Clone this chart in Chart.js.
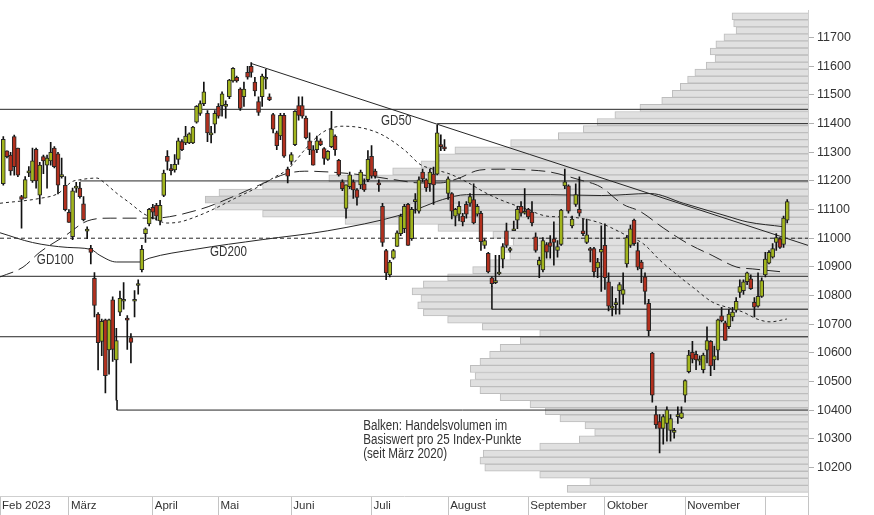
<!DOCTYPE html>
<html>
<head>
<meta charset="utf-8">
<script src="https://cdn.jsdelivr.net/npm/chart.js@4.4.0/dist/chart.umd.min.js"></script>
<style>
  html, body { margin: 0; padding: 0; background: #fff; }
</style>
</head>
<body>
<canvas id="c" width="874" height="515"></canvas>
<script>
// SMI daily candles, day 0 = 3 Feb 2023 (trading days only)
const opens = [
  11190, 11305, 11290, 11355, 11315, 11145, 11140, 11228, 11200, 11310, 11150, 11285,
  11255, 11270, 11315, 11295, 11215, 11185, 11090, 11005, 11175, 11175, 11120, 11025,
  10965, 10860, 10735, 10640, 10715, 10610, 10785, 10575, 10742, 10780, 10718, 10653,
  10780, 10835, 10890, 11016, 11050, 11108, 11115, 11060, 11149, 11286, 11240, 11238,
  11275, 11337, 11333, 11333, 11333, 11405, 11436, 11470, 11436, 11361, 11398, 11460,
  11463, 11460, 11494, 11549, 11562, 11521, 11494, 11579, 11600, 11545, 11477, 11494,
  11555, 11494, 11432, 11368, 11357, 11429, 11241, 11268, 11327, 11463, 11463, 11419,
  11340, 11309, 11309, 11340, 11313, 11275, 11320, 11357, 11272, 11197, 11104, 11180,
  11197, 11169, 11186, 11190, 11204, 11286, 11234, 11190, 11111, 10957, 10872, 10930,
  10971, 11016, 11033, 11118, 10998, 11128, 11094, 11231, 11204, 11190, 11224, 11224,
  11323, 11316, 11156, 11156, 11077, 11084, 11077, 11118, 11122, 11135, 11084, 11087,
  10975, 10947, 10862, 10845, 10875, 10927, 11026, 10957, 11026, 11063, 11111, 11087,
  11101, 11091, 11005, 10906, 10889, 10978, 10985, 10998, 10957, 10978, 11183, 11183,
  11043, 11118, 11101, 11026, 10985, 10964, 10964, 10896, 10951, 10975, 10848, 10756,
  10768, 10817, 10804, 10910, 10975, 11063, 10957, 10917, 10865, 10773, 10599, 10384,
  10360, 10336, 10353, 10329, 10322, 10377, 10373, 10452, 10534, 10602, 10595, 10571,
  10541, 10609, 10640, 10575, 10609, 10729, 10705, 10691, 10725, 10749, 10811, 10817,
  10848, 10858, 10776, 10763, 10797, 10872, 10913, 10934, 10985, 10998, 10978, 11063
];
const highs = [
  11355, 11305, 11300, 11360, 11315, 11150, 11215, 11250, 11315, 11315, 11265, 11290,
  11290, 11335, 11320, 11300, 11280, 11215, 11100, 11175, 11195, 11195, 11145, 11040,
  10975, 10880, 10740, 10718, 10718, 10718, 10795, 10685, 10815, 10845, 10730, 10667,
  10817, 10855, 10975, 11036, 11104, 11118, 11122, 11132, 11238, 11306, 11258, 11292,
  11350, 11344, 11391, 11368, 11391, 11463, 11480, 11545, 11446, 11391, 11446, 11470,
  11511, 11480, 11555, 11596, 11566, 11525, 11545, 11600, 11613, 11562, 11494, 11573,
  11590, 11504, 11436, 11374, 11436, 11436, 11248, 11299, 11446, 11494, 11494, 11426,
  11368, 11323, 11357, 11347, 11316, 11306, 11443, 11361, 11275, 11204, 11186, 11231,
  11204, 11173, 11238, 11207, 11306, 11323, 11241, 11204, 11122, 10961, 10923, 10961,
  11026, 11084, 11118, 11122, 11108, 11156, 11214, 11241, 11207, 11241, 11248, 11395,
  11361, 11344, 11214, 11159, 11104, 11128, 11087, 11128, 11156, 11190, 11118, 11094,
  10998, 10951, 10865, 10940, 10940, 10981, 11053, 10968, 11060, 11111, 11128, 11173,
  11104, 11128, 11019, 10934, 11002, 10985, 11009, 11057, 10992, 11101, 11241, 11186,
  11077, 11190, 11214, 11067, 11067, 10968, 10968, 10930, 11043, 11050, 10879, 10831,
  10790, 10845, 10879, 11009, 11046, 11067, 10985, 10923, 10879, 10787, 10602, 10414,
  10384, 10384, 10411, 10384, 10336, 10411, 10411, 10506, 10609, 10640, 10606, 10589,
  10599, 10691, 10643, 10623, 10718, 10759, 10711, 10752, 10759, 10793, 10855, 10855,
  10882, 10872, 10793, 10879, 10862, 10951, 10957, 10981, 11016, 11002, 11077, 11135
];
const lows = [
  11185, 11280, 11220, 11220, 11215, 11035, 11140, 11215, 11195, 11175, 11120, 11225,
  11175, 11255, 11245, 11155, 11210, 11095, 11055, 10995, 11160, 11140, 11060, 10998,
  10910, 10725, 10540, 10590, 10460, 10525, 10570, 10435, 10730, 10752, 10612, 10565,
  10725, 10805, 10882, 10985, 11043, 11067, 11063, 11046, 11145, 11238, 11221, 11231,
  11258, 11306, 11327, 11330, 11330, 11402, 11429, 11463, 11337, 11333, 11368, 11419,
  11426, 11419, 11487, 11545, 11545, 11446, 11460, 11555, 11562, 11497, 11429, 11460,
  11521, 11480, 11368, 11309, 11344, 11282, 11193, 11258, 11323, 11412, 11419, 11347,
  11292, 11255, 11299, 11323, 11258, 11272, 11316, 11289, 11217, 11166, 11070, 11173,
  11139, 11115, 11173, 11163, 11197, 11210, 11210, 11163, 10971, 10855, 10865, 10927,
  10971, 11009, 11019, 10975, 10992, 11087, 11087, 11197, 11163, 11163, 11118, 11221,
  11306, 11306, 11135, 11067, 11043, 11060, 11043, 11070, 11111, 11050, 11077, 10957,
  10964, 10879, 10831, 10841, 10872, 10896, 10968, 10951, 11026, 11033, 11077, 11084,
  11067, 11043, 10951, 10862, 10882, 10930, 10930, 10906, 10934, 10975, 11173, 11087,
  11036, 11111, 11077, 11009, 10981, 10917, 10865, 10862, 10814, 10821, 10746, 10729,
  10735, 10735, 10770, 10899, 10968, 10975, 10889, 10845, 10770, 10660, 10428, 10336,
  10250, 10281, 10291, 10291, 10302, 10353, 10370, 10428, 10530, 10565, 10541, 10558,
  10530, 10565, 10520, 10541, 10575, 10708, 10643, 10684, 10711, 10742, 10793, 10804,
  10838, 10821, 10725, 10759, 10793, 10865, 10910, 10930, 10957, 10964, 10968, 11053
];
const closes = [
  11345, 11285, 11235, 11250, 11220, 11135, 11205, 11232, 11270, 11200, 11255, 11270,
  11280, 11300, 11250, 11185, 11220, 11100, 11055, 11165, 11180, 11145, 11065, 11030,
  10950, 10765, 10635, 10710, 10520, 10715, 10612, 10643, 10790, 10785, 10714, 10636,
  10785, 10840, 10961, 11033, 11101, 11091, 11077, 11115, 11227, 11268, 11236, 11258,
  11340, 11309, 11357, 11364, 11388, 11460, 11470, 11511, 11368, 11365, 11436, 11426,
  11504, 11464, 11552, 11593, 11549, 11453, 11521, 11562, 11579, 11514, 11439, 11566,
  11562, 11484, 11381, 11323, 11429, 11286, 11217, 11292, 11443, 11429, 11426, 11350,
  11309, 11255, 11340, 11327, 11279, 11303, 11381, 11309, 11221, 11173, 11186, 11221,
  11169, 11142, 11231, 11169, 11275, 11217, 11217, 11186, 10985, 10879, 10917, 10957,
  11019, 11077, 11111, 10975, 11101, 11132, 11204, 11207, 11176, 11231, 11186, 11368,
  11320, 11312, 11207, 11094, 11101, 11111, 11057, 11084, 11145, 11053, 11111, 10988,
  10992, 10882, 10841, 10849, 10882, 10971, 10975, 10959, 11030, 11101, 11087, 11090,
  11074, 11053, 10957, 10923, 10992, 10951, 10971, 10985, 10971, 11098, 11197, 11094,
  11067, 11152, 11087, 11016, 11012, 10957, 10882, 10917, 10961, 10862, 10763, 10759,
  10772, 10838, 10821, 11002, 11033, 10981, 10899, 10893, 10814, 10677, 10452, 10349,
  10336, 10377, 10401, 10370, 10325, 10382, 10390, 10503, 10592, 10578, 10575, 10573,
  10592, 10643, 10554, 10589, 10715, 10711, 10643, 10735, 10742, 10780, 10831, 10848,
  10879, 10824, 10759, 10797, 10852, 10927, 10951, 10964, 11002, 10968, 11070, 11128
];

// month axis: first trading day of each month (day index), left edge for Feb, right edge last
const monthStarts = [-0.905, 18, 41, 59, 79, 101, 122, 144, 165, 187, 209, 220.7];
const monthLabels = ['Feb 2023', 'März', 'April', 'Mai', 'Juni', 'Juli', 'August', 'September', 'Oktober', 'November', '', ''];
const priceTicks = [10200, 10300, 10400, 10500, 10600, 10700, 10800, 10900, 11000, 11100, 11200, 11300, 11400, 11500, 11600, 11700];

const gd50Days = [-0.9, 10, 15, 18.8, 21, 25.7, 27.4, 31.2, 34.8, 38.3, 41.1, 44.9, 48.5, 52.6, 58.1, 63.5, 69, 74.5, 78.1, 82.7, 87.4, 92.9, 98.4, 103.9, 110.2, 114.3, 117.9, 122.5, 128, 131.6, 136.2, 143.6, 149.1, 154.6, 158.2, 163.7, 171.1, 175.5, 180.1, 184.8, 189.2, 194.6, 198.5, 202.9, 206.7, 210.3, 214.9];
const gd50Values = [11122, 11139, 11156, 11197, 11204, 11210, 11197, 11156, 11122, 11087, 11070, 11053, 11057, 11074, 11104, 11139, 11173, 11214, 11241, 11309, 11368, 11391, 11385, 11361, 11306, 11258, 11241, 11224, 11190, 11163, 11135, 11101, 11077, 11074, 11070, 11053, 11009, 10981, 10923, 10872, 10828, 10776, 10759, 10742, 10718, 10708, 10718];
const gd100Days = [-0.9, 5.4, 10, 17, 23, 29.3, 41, 54, 63, 71, 77.3, 82.7, 89.6, 98.4, 107.4, 114.3, 119.8, 124.4, 130.7, 136.2, 144.5, 150, 158, 163.7, 170, 174.6, 181, 187.8, 194.4, 201.2, 205.4, 214];
const gd100Values = [10865, 10899, 10951, 11009, 11060, 11070, 11070, 11101, 11145, 11190, 11224, 11234, 11231, 11221, 11204, 11193, 11193, 11207, 11238, 11241, 11238, 11231, 11204, 11180, 11118, 11094, 11036, 10981, 10940, 10899, 10893, 10882];
const gd200Days = [-0.9, 8, 17.5, 24, 26.5, 31, 37.5, 40, 52.5, 71, 89, 109, 114, 120.5, 127, 150, 164, 177.5, 186.5, 198.5, 204, 214];
const gd200Values = [11019, 10985, 10968, 10961, 10940, 10917, 10917, 10930, 10961, 10995, 11026, 11081, 11104, 11135, 11152, 11152, 11149, 11156, 11122, 11077, 11057, 11040];

// volume profile: lower bound of each 25-point bin and relative volume (% of axis)
const profileLevels = [10100, 10125, 10150, 10175, 10200, 10225, 10250, 10275, 10300, 10325, 10350, 10375,
  10400, 10425, 10450, 10475, 10500, 10525, 10550, 10575, 10600, 10625, 10650, 10675,
  10700, 10725, 10750, 10775, 10800, 10825, 10850, 10875, 10900, 10925, 10950, 10975,
  11000, 11025, 11050, 11075, 11100, 11125, 11150, 11175, 11200, 11225, 11250, 11275,
  11300, 11325, 11350, 11375, 11400, 11425, 11450, 11475, 11500, 11525, 11550, 11575,
  11600, 11625, 11650, 11675, 11700, 11725, 11750, 11775];
const profileVolume = [29.8, 27.0, 33.2, 40.0, 40.6, 40.2, 33.2, 28.3, 26.4, 27.6, 30.7, 32.5,
  34.4, 38.1, 40.6, 41.8, 41.2, 41.8, 40.6, 39.4, 38.1, 35.6, 33.2, 40.3,
  44.6, 47.6, 48.3, 47.9, 49.0, 47.6, 44.6, 41.5, 39.4, 36.9, 37.9, 36.5,
  39.0, 45.8, 57.3, 67.5, 73.4, 74.6, 72.9, 67.5, 59.3, 51.4, 47.9, 45.7,
  43.7, 36.8, 30.9, 27.8, 26.1, 23.9, 20.8, 18.1, 16.8, 15.8, 14.9, 14.0,
  12.6, 11.5, 12.1, 11.4, 10.4, 8.9, 9.2, 9.4];
const lastClose = closes[closes.length - 1];

// horizontal marks: [from day, level, start level of the drop-down bracket or null, dashed]
const X_MIN = -0.905, X_MAX = 220.7;
const levelLines = [
  [X_MIN, 11450, null, false],
  [119, 11400, null, false],
  [21, 11200, null, false],
  [X_MIN, 11000, null, true],
  [X_MIN, 10867, null, false],
  [134, 10752, 10831, false],
  [X_MIN, 10656, null, false],
  [31.2, 10400, 10435, false]
];
const trendDays = [68, X_MAX];
const trendValues = [11610, 10975];

const GREEN = '#a2b51d', RED = '#b3301e', INK = '#262626';
const FONT = "'Liberation Sans', Arial, sans-serif";

const notes = [
  { day: 9.2, price: 10925, lines: ['GD100'] },
  { day: 56.7, price: 10952, lines: ['GD200'] },
  { day: 103.6, price: 11410, lines: ['GD50'] },
  { day: 98.7, price: 10345, lines: ['Balken: Handelsvolumen im', 'Basiswert pro 25 Index-Punkte', '(seit März 2020)'] }
];

// labels in the plot, narrow like the original face
const notePlugin = {
  id: 'notes',
  afterDatasetsDraw(chart) {
    const { ctx, scales } = chart;
    ctx.save();
    ctx.font = '14px ' + FONT;
    ctx.fillStyle = '#333';
    ctx.textBaseline = 'middle';
    notes.forEach(n => {
      const px = scales.x.getPixelForValue(n.day);
      const py = scales.y.getPixelForValue(n.price);
      n.lines.forEach((t, k) => {
        ctx.save();
        ctx.translate(px, py + k * 14);
        ctx.scale(0.83, 1);
        ctx.fillText(t, 0, 0);
        ctx.restore();
      });
    });
    ctx.restore();
  }
};

const lineSet = (data, dash, extra) => Object.assign({
  type: 'line', data, borderColor: INK, borderWidth: 1, borderDash: dash,
  pointRadius: 0, fill: false, tension: 0, order: 5, xAxisID: 'x', yAxisID: 'y'
}, extra || {});

const datasets = [];

// candle bodies (top)
datasets.push({
  type: 'bar', order: 1, xAxisID: 'x', yAxisID: 'y',
  data: closes.map((c, i) => ({ x: i, y: [opens[i], c] })),
  backgroundColor: closes.map((c, i) => c >= opens[i] ? GREEN : RED),
  borderColor: INK, borderWidth: 1, borderSkipped: false,
  barThickness: 4, minBarLength: 2, grouped: false
});
// wicks
datasets.push({
  type: 'bar', order: 2, xAxisID: 'x', yAxisID: 'y',
  data: highs.map((h, i) => ({ x: i, y: [lows[i], h] })),
  backgroundColor: '#111', borderWidth: 0, barThickness: 1, grouped: false
});

// moving averages
datasets.push(lineSet(gd50Days.map((d, i) => ({ x: d, y: gd50Values[i] })), [3, 3], { cubicInterpolationMode: 'monotone' }));
datasets.push(lineSet(gd100Days.map((d, i) => ({ x: d, y: gd100Values[i] })), [14, 6], { cubicInterpolationMode: 'monotone' }));
datasets.push(lineSet(gd200Days.map((d, i) => ({ x: d, y: gd200Values[i] })), [], { cubicInterpolationMode: 'monotone' }));

// trend line
datasets.push(lineSet(trendDays.map((d, i) => ({ x: d, y: trendValues[i] })), []));

// support / resistance levels
levelLines.forEach(([from, level, bracket, dashed]) => {
  const pts = [];
  if (bracket !== null) pts.push({ x: from, y: bracket });
  pts.push({ x: from, y: level }, { x: X_MAX, y: level });
  datasets.push(lineSet(pts, dashed ? [4, 3] : [], { order: 6 }));
});

// volume profile (bottom layer)
datasets.push({
  type: 'bar', order: 10, indexAxis: 'y', xAxisID: 'xv', yAxisID: 'yv',
  data: profileLevels.map((lv, i) => ({ y: lv + 12.5, x: profileVolume[i] })),
  backgroundColor: profileLevels.map(lv => (lastClose >= lv && lastClose < lv + 25) ? '#d3d3d3' : '#e0e0e0'),
  borderColor: '#bdbdbd', borderWidth: 1, borderSkipped: 'start',
  barPercentage: 1, categoryPercentage: 1, grouped: false
});

const minorTicks = profileLevels.slice(1).concat([11775]).filter((v, i, a) => a.indexOf(v) === i);

new Chart(document.getElementById('c'), {
  type: 'bar',
  data: { datasets },
  options: {
    responsive: false,
    devicePixelRatio: 1,
    animation: false,
    layout: { padding: 0, autoPadding: false },
    plugins: { legend: { display: false }, tooltip: { enabled: false } },
    scales: {
      x: {
        type: 'linear', min: X_MIN, max: X_MAX, offset: false,
        afterBuildTicks: s => { s.ticks = monthStarts.map(v => ({ value: v })); },
        afterFit: s => { s.height = 19; },
        grid: { offset: false, drawOnChartArea: false, drawTicks: true, tickLength: 19, tickColor: '#c4c4c4' },
        border: { display: true, color: '#cfcfcf' },
        ticks: {
          autoSkip: false, maxRotation: 0, align: 'start', padding: -16, labelOffset: 2,
          color: '#333', font: { family: FONT, size: 11.5 },
          callback: (v, i) => monthLabels[i]
        }
      },
      xv: { type: 'linear', display: false, reverse: true, min: 0, max: 100, offset: false, grid: { offset: false } },
      y: {
        type: 'linear', position: 'right', min: 10100, max: 11795,
        afterBuildTicks: s => { s.ticks = priceTicks.map(v => ({ value: v })); },
        afterFit: s => { s.width = 66; },
        grid: { drawOnChartArea: false, tickLength: 6, tickColor: '#b0b0b0' },
        border: { display: true, color: '#cfcfcf' },
        ticks: { padding: 3, color: '#333', font: { family: FONT, size: 12.5 }, callback: v => String(v) }
      },
      yv: {
        type: 'linear', position: 'right', min: 10100, max: 11795,
        afterBuildTicks: s => { s.ticks = minorTicks.map(v => ({ value: v })); },
        afterFit: s => { s.width = 0; },
        grid: { drawOnChartArea: false, tickLength: 4, tickColor: '#b0b0b0' },
        border: { display: false },
        ticks: { display: false }
      }
    }
  },
  plugins: [notePlugin]
});
</script>
</body>
</html>
